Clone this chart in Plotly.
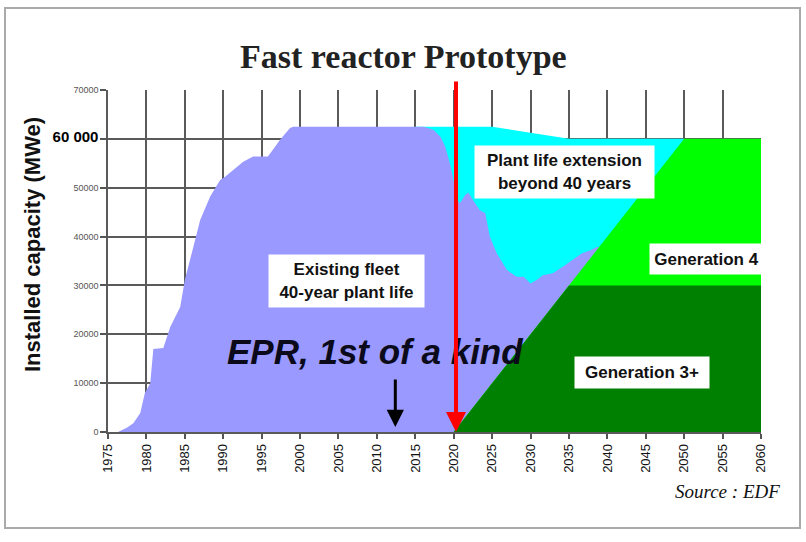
import plotly.graph_objects as go

# ---------------- data ----------------
fleet_years = [1975, 1976.3, 1977.5, 1978.3, 1979.2, 1979.8, 1980.5, 1980.9, 1982.2, 1983.1, 1984.4,
               1985.0, 1985.9, 1987.0, 1988.3, 1989.6, 1990.2, 1991.3, 1992.6, 1993.9, 1995.8,
               1996.3, 1997.4, 1998.7, 1999.1, 2016.1, 2017.4, 2018.3, 2018.9, 2019.5, 2019.9,
               2020.4, 2020.8, 2021.5, 2021.9, 2022.5, 2023.4, 2024.1, 2024.7, 2025.6, 2026.9,
               2028.2, 2029.1, 2030.0, 2030.8, 2031.6, 2032.9, 2034.2, 2035.5, 2036.7, 2037.8,
               2038.7, 2039.0]
fleet_mwe = [0, 0, 900, 1800, 3900, 8000, 10000, 17000, 17200, 21500, 25600,
             31100, 36600, 43400, 48200, 51600, 52200, 53600, 55300, 56400, 56400,
             57400, 59800, 62200, 62500, 62500, 61800, 60400, 58400, 55000, 52200,
             47500, 46800, 48500, 49000, 47500, 45400, 44800, 40000, 36600, 33200,
             31800, 31800, 30400, 31100, 32100, 32500, 33800, 35200, 36600, 37200,
             37900, 37800]

extension_years = [2015, 2025, 2035, 2050]
extension_mwe = [62500, 62500, 60000, 60000]

gen4_years = [2020, 2050, 2060]
gen4_mwe = [0, 60000, 60000]

gen3_years = [2020, 2035, 2060]
gen3_mwe = [0, 30000, 30000]

x_ticks = list(range(1975, 2061, 5))
y_ticks = [0, 10000, 20000, 30000, 40000, 50000, 60000, 70000]
y_ticktext = ["0", "10000", "20000", "30000", "40000", "50000",
              "<span style='font-size:15px;font-weight:bold;fill:#000'>60 000</span>", "70000"]

fast_reactor_year = 2020.3
epr_year = 2012.4

# ---------------- figure ----------------
C_FLEET = "#9999FF"
C_EXT = "#00FFFF"
C_GEN4 = "#00FF00"
C_GEN3 = "#008000"

fig = go.Figure()
for xs, ys, col, nm in [
    (extension_years, extension_mwe, C_EXT, "Plant life extension"),
    (fleet_years, fleet_mwe, C_FLEET, "Existing fleet"),
    (gen4_years, gen4_mwe, C_GEN4, "Generation 4"),
    (gen3_years, gen3_mwe, C_GEN3, "Generation 3+"),
]:
    fig.add_trace(go.Scatter(x=xs, y=ys, mode="lines", fill="tozeroy",
                             fillcolor=col, line=dict(width=0, color=col),
                             name=nm, hoverinfo="skip"))

SANS = "Liberation Sans, Arial, sans-serif"
SERIF = "Liberation Serif, Times New Roman, serif"

fig.update_layout(
    width=806, height=542,
    margin=dict(l=108, r=45, t=90, b=110),
    paper_bgcolor="white", plot_bgcolor="white",
    showlegend=False,
    xaxis=dict(range=[1975, 2060], tickvals=x_ticks, tickangle=-90,
               tickfont=dict(family=SANS, size=13, color="#111"),
               ticks="outside", ticklen=5, tickcolor="#555", tickwidth=1.5,
               showgrid=True, gridcolor="#5a5a5a", gridwidth=1.5,
               showline=True, linecolor="#5a5a5a", linewidth=1.5,
               zeroline=False, layer="above traces"),
    yaxis=dict(range=[0, 70000], tickvals=y_ticks, ticktext=y_ticktext,
               tickfont=dict(family=SANS, size=9, color="#555"),
               ticks="outside", ticklen=6, tickcolor="#555", tickwidth=1.5,
               showgrid=True, gridcolor="#5a5a5a", gridwidth=1.5,
               showline=True, linecolor="#5a5a5a", linewidth=1.5,
               zeroline=False, layer="above traces"),
)

# frame
fig.add_shape(type="rect", xref="paper", yref="paper",
              x0=(5 - 108) / 653, x1=(800 - 108) / 653,
              y0=(432 - 528) / 342, y1=(432 - 8) / 342,
              line=dict(color="#aaaaaa", width=2), fillcolor="rgba(0,0,0,0)", layer="below")

box_font = dict(family=SANS, size=17, color="#111")
labels = [
    ("<b>Existing fleet<br>40-year plant life</b>", 2006.05, 30900, 153, 50),
    ("<b>Plant life extension<br>beyond 40 years</b>", 2034.4, 53200, 177, 50),
    ("<b>Generation 4</b>", 2052.9, 35400, 111, 28),
    ("<b>Generation 3+</b>", 2044.5, 12180, 132, 29),
]
for txt, xv, yv, w, h in labels:
    fig.add_annotation(x=xv, y=yv, text=txt, showarrow=False, font=box_font,
                       bgcolor="white", width=w, height=h, align="center")

fig.add_annotation(x=2009.8, y=16400, text="<b><i>EPR, 1st of a kind</i></b>", showarrow=False,
                   font=dict(family=SANS, size=35, color="#0a0a1a"))

# arrows
fig.add_annotation(x=epr_year, y=1000, ax=epr_year, ay=11050, axref="x", ayref="y",
                   text="", showarrow=True, arrowhead=2, arrowsize=1.15, arrowwidth=3,
                   arrowcolor="black")
fig.add_annotation(x=fast_reactor_year, y=0, ax=fast_reactor_year, ay=72050, axref="x", ayref="y",
                   text="", showarrow=True, arrowhead=2, arrowsize=1.0, arrowwidth=4,
                   arrowcolor="#FF0000")

# titles
fig.add_annotation(xref="paper", yref="paper", x=(403 - 108) / 653, y=(432 - 57) / 342,
                   xanchor="center", yanchor="middle",
                   text="<b>Fast reactor Prototype</b>", showarrow=False,
                   font=dict(family=SERIF, size=34, color="#222"))
fig.add_annotation(xref="paper", yref="paper", x=(32 - 108) / 653, y=(432 - 245) / 342,
                   xanchor="center", yanchor="middle",
                   text="<b>Installed capacity (MWe)</b>", showarrow=False, textangle=-90,
                   font=dict(family=SANS, size=22, color="#111"))
fig.add_annotation(xref="paper", yref="paper", x=(782 - 108) / 653, y=(432 - 491) / 342,
                   xanchor="right", yanchor="middle", text="<i>Source : EDF</i>", showarrow=False,
                   font=dict(family=SERIF, size=19, color="#111"))

fig.write_html("out.html")
